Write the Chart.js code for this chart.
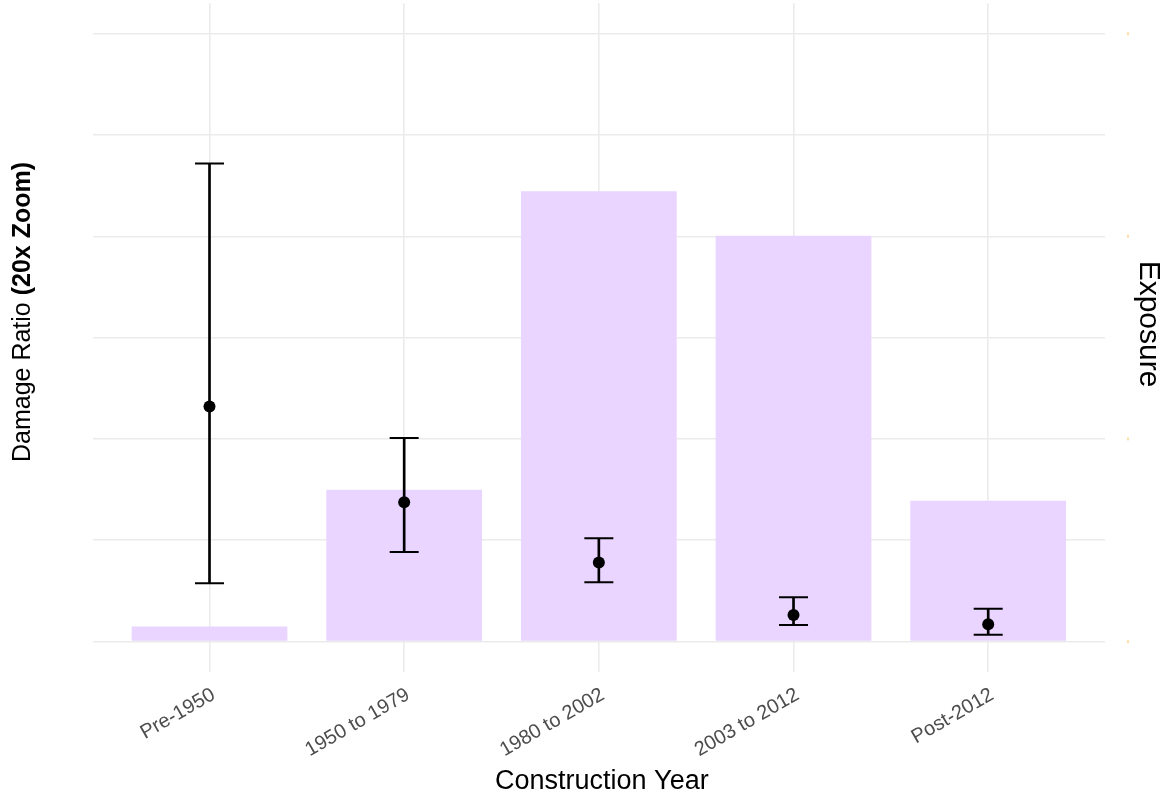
<!DOCTYPE html>
<html>
<head>
<meta charset="utf-8">
<script src="https://cdn.jsdelivr.net/npm/chart.js@4.4.1/dist/chart.umd.min.js"></script>
<style>
  html, body { margin: 0; padding: 0; background: #ffffff; }
  #wrap { width: 1165px; height: 794px; position: relative; }
</style>
</head>
<body>
<div id="wrap"><canvas id="c" width="1165" height="794"></canvas></div>
<script>
// ---- data ----
const categories = ['Pre-1950', '1950 to 1979', '1980 to 2002', '2003 to 2012', 'Post-2012'];
const exposure   = [0.15, 1.50, 4.445, 4.005, 1.39];
const damage     = [2.32, 1.375, 0.78, 0.263, 0.171];
const damageLow  = [0.575, 0.885, 0.585, 0.164, 0.068];
const damageHigh = [4.72, 2.01, 1.02, 0.437, 0.325];
const yTicks     = [0, 1, 2, 3, 4, 5, 6];
const secTicks   = [0, 2, 4, 6];

const FONT = '"Liberation Sans", Arial, Helvetica, sans-serif';

const xy = (arr) => arr.map((v, i) => ({ x: i, y: v }));

const titlesPlugin = {
  id: 'titles',
  afterDraw(chart) {
    const ctx = chart.ctx;
    const ca = chart.chartArea;
    ctx.save();
    // x title
    ctx.fillStyle = '#000';
    ctx.font = '27px ' + FONT;
    ctx.textAlign = 'center';
    ctx.textBaseline = 'alphabetic';
    ctx.fillText('Construction Year', (ca.left + ca.right) / 2 + 3, 789);

    // left title with bold part
    const part1 = 'Damage Ratio ';
    const part2 = '(20x Zoom)';
    ctx.font = '25px ' + FONT;
    const w1 = ctx.measureText(part1).width;
    ctx.font = 'bold 25px ' + FONT;
    const w2 = ctx.measureText(part2).width;
    const total = w1 + w2;
    ctx.save();
    ctx.translate(30, 312);
    ctx.rotate(-Math.PI / 2);
    ctx.textAlign = 'left';
    ctx.font = '25px ' + FONT;
    ctx.fillText(part1, -total / 2, 0);
    ctx.font = 'bold 25px ' + FONT;
    ctx.fillText(part2, -total / 2 + w1, 0);
    ctx.restore();

    // right title
    ctx.save();
    ctx.translate(1140, 324);
    ctx.rotate(Math.PI / 2);
    ctx.textAlign = 'center';
    ctx.font = '30px ' + FONT;
    ctx.fillText('Exposure', 0, 0);
    ctx.restore();

    // faint orange secondary ticks
    const ys = chart.scales.y;
    ctx.fillStyle = 'rgba(255,170,40,0.75)';
    secTicks.forEach(v => {
      const py = ys.getPixelForValue(v);
      ctx.fillRect(1127.5, py - 1.5, 1, 3);
    });
    ctx.restore();
  }
};

new Chart(document.getElementById('c'), {
  type: 'bar',
  data: {
    datasets: [
      {
        type: 'scatter',
        label: 'Damage ratio',
        data: xy(damage),
        pointRadius: 6,
        pointHoverRadius: 6,
        backgroundColor: '#000',
        borderColor: '#000',
        borderWidth: 0,
        order: 1
      },
      {
        type: 'scatter',
        label: 'caps',
        data: xy(damageLow).concat(xy(damageHigh)),
        pointStyle: 'line',
        pointRadius: 14.5,
        pointHoverRadius: 14.5,
        borderColor: '#000',
        pointBorderWidth: 2,
        borderWidth: 2,
        order: 2
      },
      {
        type: 'bar',
        label: 'error',
        data: damageLow.map((v, i) => ({ x: i, y: [v, damageHigh[i]] })),
        backgroundColor: '#000',
        borderWidth: 0,
        barThickness: 2,
        grouped: false,
        order: 3
      },
      {
        type: 'bar',
        label: 'Exposure',
        data: xy(exposure),
        backgroundColor: 'rgb(233,213,255)',
        borderWidth: 0,
        barPercentage: 0.8,
        categoryPercentage: 1.0,
        grouped: false,
        order: 4
      }
    ]
  },
  options: {
    responsive: false,
    animation: false,
    devicePixelRatio: 1,
    layout: { autoPadding: false, padding: { left: 92.7, right: 60, top: 3.3, bottom: 0 } },
    plugins: { legend: { display: false }, tooltip: { enabled: false } },
    scales: {
      x: {
        type: 'linear',
        min: -0.6,
        max: 4.6,
        offset: false,
        afterBuildTicks: (s) => { s.ticks = categories.map((_, i) => ({ value: i })); },
        afterFit: (s) => { s.height = 122; s.paddingLeft = 0; s.paddingRight = 0; },
        ticks: {
          autoSkip: false,
          maxRotation: 30,
          minRotation: 30,
          padding: 11,
          labelOffset: 4,
          color: '#4d4d4d',
          font: { family: FONT, size: 20 },
          callback: (v) => categories[v] ?? ''
        },
        grid: { color: '#ebebeb', lineWidth: 1.6, drawTicks: false, offset: false },
        border: { display: false }
      },
      y: {
        type: 'linear',
        min: -0.3,
        max: 6.3,
        afterBuildTicks: (s) => { s.ticks = yTicks.map(v => ({ value: v })); },
        afterFit: (s) => { s.width = 0; s.paddingTop = 0; s.paddingBottom = 0; },
        ticks: { display: false },
        grid: { color: '#ebebeb', lineWidth: 1.6, drawTicks: false },
        border: { display: false }
      }
    }
  },
  plugins: [titlesPlugin]
});
</script>
</body>
</html>
